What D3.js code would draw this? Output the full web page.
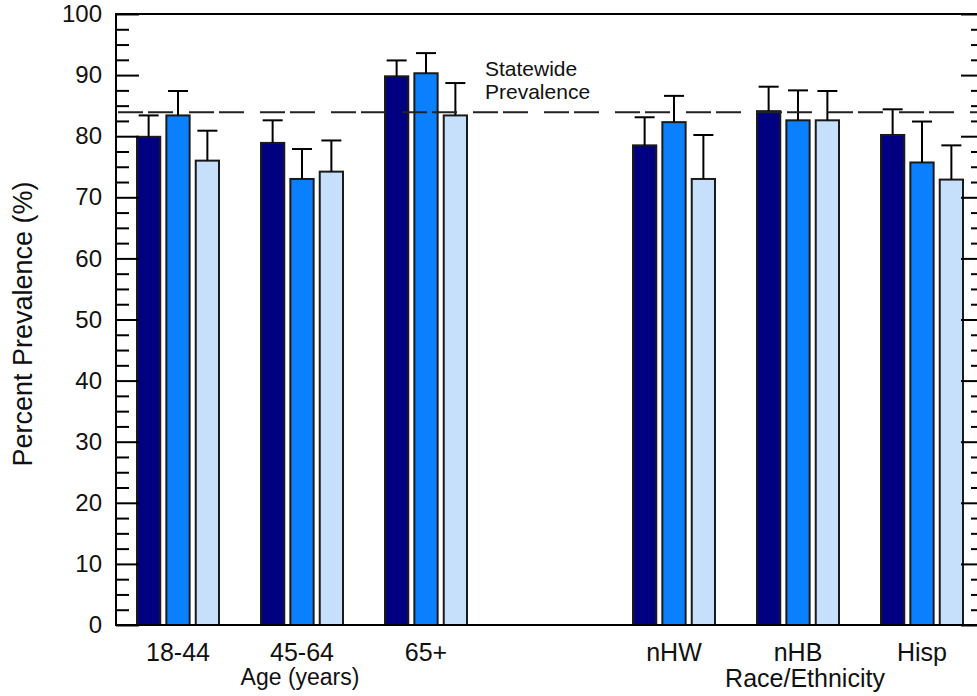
<!DOCTYPE html>
<html>
<head>
<meta charset="utf-8">
<script src="https://cdn.jsdelivr.net/npm/d3@7/dist/d3.min.js"></script>
<style>
  html, body { margin: 0; padding: 0; background: #fff; }
  svg { display: block; font-family: "Liberation Sans", Arial, sans-serif; }
</style>
</head>
<body>
<svg id="chart" width="977" height="696"></svg>
<script>
// Age groups and race/ethnicity groups
const ageGroups = ["18-44", "45-64", "65+"];
const raceGroups = ["nHW", "nHB", "Hisp"];
const categories = ageGroups.concat(raceGroups);

// Three series per category (bar heights, %)
const seriesA = [79.9, 78.9, 89.8, 78.5, 84.1, 80.2];
const seriesB = [83.4, 73.0, 90.3, 82.3, 82.6, 75.7];
const seriesC = [76.0, 74.2, 83.4, 73.0, 82.6, 72.9];

// Upper confidence limits (%)
const upperA = [83.4, 82.6, 92.4, 83.1, 88.1, 84.4];
const upperB = [87.4, 77.9, 93.6, 86.6, 87.5, 82.4];
const upperC = [80.9, 79.3, 88.7, 80.2, 87.4, 78.5];

const statewide = 83.9;
const yTicks = [0, 10, 20, 30, 40, 50, 60, 70, 80, 90, 100];

const seriesNames = ["A", "B", "C"];
const seriesValues = [seriesA, seriesB, seriesC];
const seriesUpper = [upperA, upperB, upperC];
const colors = ["#000080", "#0a80ff", "#c6e0fb"];

const svg = d3.select("#chart");
const plotL = 116, plotR = 984, plotT = 14, plotB = 625;

// Category slots with an empty slot separating the two panels
const slotDomain = ageGroups.concat(["__gap"], raceGroups);
const x = d3.scaleBand().domain(slotDomain).range([plotL, plotR]).padding(0);
const xInner = d3.scaleBand().domain(seriesNames)
  .range([20, x.bandwidth() - 20]).paddingInner(0.14);
const y = d3.scaleLinear().domain([0, 100]).range([plotB, plotT]);

const rows = [];
categories.forEach((c, i) => {
  seriesNames.forEach((s, j) => {
    rows.push({ cat: c, s: s, j: j, v: seriesValues[j][i], hi: seriesUpper[j][i] });
  });
});

// Bars
const bw = xInner.bandwidth();
svg.append("g").selectAll("rect").data(rows).join("rect")
  .attr("x", d => x(d.cat) + xInner(d.s) + 1)
  .attr("y", d => y(d.v))
  .attr("width", bw - 2)
  .attr("height", d => y(0) - y(d.v))
  .attr("fill", d => colors[d.j])
  .attr("stroke", "#1a1a1a")
  .attr("stroke-width", 2);

// Error bars (upper only)
const capW = 20;
const eg = svg.append("g").attr("stroke", "#000").attr("stroke-width", 2);
rows.forEach(d => {
  const cx = x(d.cat) + xInner(d.s) + bw / 2;
  eg.append("line").attr("x1", cx).attr("x2", cx).attr("y1", y(d.v)).attr("y2", y(d.hi));
  eg.append("line").attr("x1", cx - capW / 2).attr("x2", cx + capW / 2).attr("y1", y(d.hi)).attr("y2", y(d.hi));
});

// Statewide reference line
svg.append("line")
  .attr("x1", plotL + 2).attr("x2", plotR)
  .attr("y1", y(statewide)).attr("y2", y(statewide))
  .attr("stroke", "#222").attr("stroke-width", 2)
  .attr("stroke-dasharray", "25,5,25,16");

svg.append("text").attr("x", 485).attr("y", 76)
  .attr("font-size", 21).attr("fill", "#111").text("Statewide");
svg.append("text").attr("x", 485).attr("y", 99)
  .attr("font-size", 21).attr("fill", "#111").text("Prevalence");

// Frame
svg.append("rect").attr("x", plotL).attr("y", plotT)
  .attr("width", plotR - plotL).attr("height", plotB - plotT)
  .attr("fill", "none").attr("stroke", "#000").attr("stroke-width", 2);

// Inward ticks: major every 10, minor every 2.5, on both sides
const minor = d3.range(0, 100.01, 2.5).filter(v => v % 10 !== 0);
const leftMajor = d3.axisRight(y).tickValues(yTicks).tickSize(23).tickFormat("");
const leftMinor = d3.axisRight(y).tickValues(minor).tickSize(13).tickFormat("");
const rightMajor = d3.axisLeft(y).tickValues(yTicks).tickSize(23).tickFormat("");
const rightMinor = d3.axisLeft(y).tickValues(minor).tickSize(13).tickFormat("");
[[leftMajor, plotL], [leftMinor, plotL], [rightMajor, plotR], [rightMinor, plotR]].forEach(([ax, px]) => {
  const g = svg.append("g").attr("transform", `translate(${px},0)`).call(ax);
  g.select(".domain").remove();
  g.selectAll("line").attr("stroke", "#000").attr("stroke-width", 2);
});

// Y tick labels
const yl = d3.axisLeft(y).tickValues(yTicks).tickSize(0).tickPadding(14).tickFormat(d3.format("d"));
const ylg = svg.append("g").attr("transform", `translate(${plotL},0)`).call(yl);
ylg.select(".domain").remove();
ylg.selectAll("text").attr("font-size", 24).attr("fill", "#111")
  .attr("font-family", "Liberation Sans, Arial, sans-serif");

// Category labels
const xl = d3.axisBottom(x).tickValues(categories).tickSize(0).tickPadding(18);
const xlg = svg.append("g").attr("transform", `translate(0,${plotB})`).call(xl);
xlg.select(".domain").remove();
xlg.selectAll("text").attr("font-size", 25).attr("fill", "#111")
  .attr("font-family", "Liberation Sans, Arial, sans-serif");

// Group titles
svg.append("text").attr("x", 300).attr("y", 685).attr("text-anchor", "middle")
  .attr("font-size", 23).attr("fill", "#111").text("Age (years)");
svg.append("text").attr("x", 805).attr("y", 687).attr("text-anchor", "middle")
  .attr("font-size", 25).attr("fill", "#111").text("Race/Ethnicity");

// Y axis title
svg.append("text")
  .attr("transform", `translate(32,324) rotate(-90)`)
  .attr("text-anchor", "middle")
  .attr("font-size", 27).attr("fill", "#111")
  .text("Percent Prevalence (%)");
</script>
</body>
</html>
